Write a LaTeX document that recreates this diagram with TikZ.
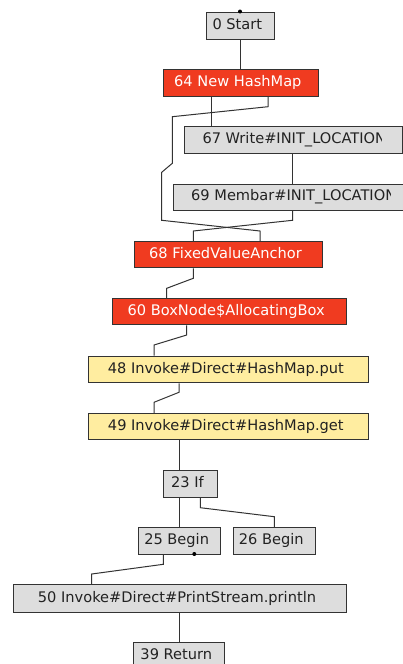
\documentclass[tikz,border=0pt]{standalone}
\usepackage{fontspec}
\setmainfont{DejaVu Sans}
\definecolor{linec}{HTML}{333333}
\definecolor{grayfill}{HTML}{DDDDDD}
\definecolor{redfill}{HTML}{F03B20}
\definecolor{yellowfill}{HTML}{FFEDA0}
\definecolor{textc}{HTML}{222222}
\tikzset{
  box/.style={draw=linec, line width=1pt, anchor=north west, inner xsep=0pt, inner ysep=0pt,
    minimum height=26.7pt, text height=10.6pt, text depth=3pt, font=\fontsize{14.6}{16}\selectfont,
    text=textc, fill=grayfill},
  hot/.style={box, fill=redfill, text=white},
  warm/.style={box, fill=yellowfill},
  lbl/.style={anchor=west, inner sep=0pt, text height=10.6pt, text depth=3pt,
    font=\fontsize{14.6}{16}\selectfont, text=textc},
  edge/.style={draw=linec, line width=1pt, line join=miter},
}
\begin{document}
\begin{tikzpicture}[x=1pt,y=-1pt]
\clip (0,0) rectangle (403,664);
\fill[white] (0,0) rectangle (403,664);

% blocks
\node[box, minimum width=67.7pt] (start) at (206,12) {0 Start\kern6pt};
\node[hot, minimum width=155.3pt] (hm64) at (162.7,69) {64 New HashMap\kern6pt};
\node[box, minimum width=217.4pt] (w67) at (184.3,126) {};
\begin{scope}
  \clip (184,126) rectangle (381,153);
  \node[lbl] (w67t) at (202.3,139.5) {67 Write\#INIT\_LOCATION};
\end{scope}
\node[box, minimum width=240pt, minimum height=26pt] (m69) at (173.3,184) {};
\begin{scope}
  \clip (173,184) rectangle (390,210);
  \node[lbl] (m69t) at (191,197) {69 Membar\#INIT\_LOCATION};
\end{scope}
\node[hot, minimum width=187.4pt, minimum height=26.3pt] (fv68) at (134.3,241) {68 FixedValueAnchor\kern6pt};
\node[hot, minimum width=234pt, minimum height=26pt] (bx60) at (111.7,298.3) {60 BoxNode\$AllocatingBox\kern6pt};
\node[warm, minimum width=280pt, minimum height=26.6pt] (put48) at (88.3,355.7) {48 Invoke\#Direct\#HashMap.put\kern6pt};
\node[warm, minimum width=280pt, minimum height=26pt] (get49) at (88.3,413.3) {49 Invoke\#Direct\#HashMap.get\kern6pt};
\node[box, minimum width=53.4pt] (if23) at (163.3,470) {23 If\kern6pt};
\node[box, minimum width=81.7pt] (b25) at (138.3,527.3) {25 Begin\kern6pt};
\node[box, minimum width=82.3pt] (b26) at (232.7,527.3) {26 Begin\kern6pt};
\node[box, minimum width=332.4pt, minimum height=27.7pt] (pr50) at (13.3,584) {50 Invoke\#Direct\#PrintStream.println\kern6pt};
\node[box, minimum width=91pt, minimum height=27pt] (ret39) at (133.3,641.7) {39 Return\kern6pt};

% connectors
\draw[edge] (240,0 |- start.south) -- (240,0 |- hm64.north);
\draw[edge] (211.7,0 |- hm64.south) -- (211.7,0 |- w67.north);
\draw[edge] (268,0 |- hm64.south) -- (268,106.7) -- (172.3,116.7) -- (172.3,163.3)
  -- (161.7,172.3) -- (161.7,220.3) -- (260,231) -- (260,0 |- fv68.north);
\draw[edge] (292.5,0 |- w67.south) -- (292.5,0 |- m69.north);
\draw[edge] (292.5,0 |- m69.south) -- (292.5,220.3) -- (193.3,231) -- (193.3,0 |- fv68.north);
\draw[edge] (193.3,0 |- fv68.south) -- (193.3,278.3) -- (166.7,288.3) -- (166.7,0 |- bx60.north);
\draw[edge] (186.7,0 |- bx60.south) -- (186.7,335) -- (154,345) -- (154,0 |- put48.north);
\draw[edge] (179,0 |- put48.south) -- (179,392.3) -- (154,402.3) -- (154,0 |- get49.north);
\draw[edge] (179,0 |- get49.south) -- (179,0 |- if23.north);
\draw[edge] (179,0 |- if23.south) -- (179,0 |- b25.north);
\draw[edge] (200.3,0 |- if23.south) -- (200.3,507.7) -- (274.3,516.7) -- (274.3,0 |- b26.north);
\draw[edge] (163.3,0 |- b25.south) -- (163.3,564.3) -- (91.7,574) -- (91.7,0 |- pr50.north);
\draw[edge] (179,0 |- pr50.south) -- (179,0 |- ret39.north);

% port markers
\coordinate (startdot) at (240,11.5);
\coordinate (b25dot) at (194.3,554);
\fill[black] (startdot) circle (2pt);
\fill[black] (b25dot) circle (2pt);
\end{tikzpicture}
\end{document}
